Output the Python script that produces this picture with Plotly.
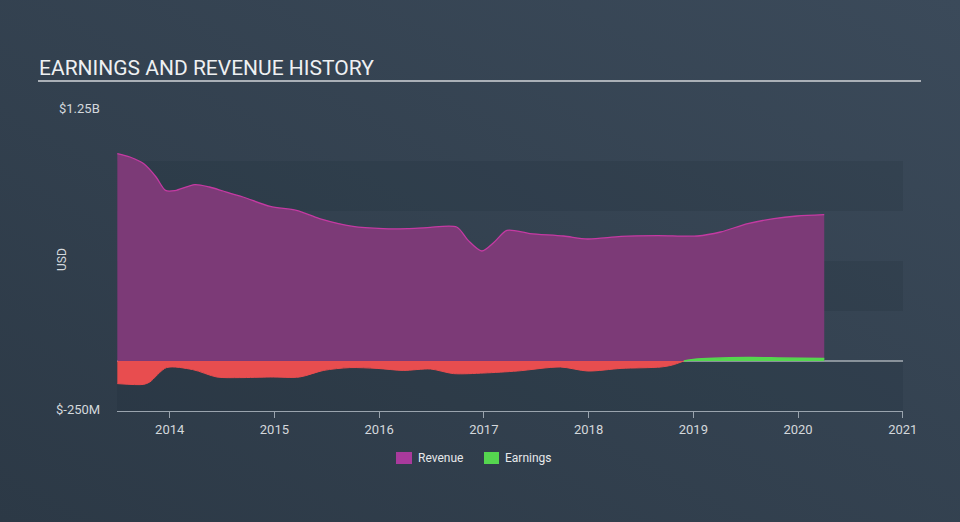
import base64
import plotly.graph_objects as go

# ---- data (values in millions USD, x in decimal years) ----
rev_t = [2013.50, 2013.62, 2013.75, 2013.87, 2013.96, 2014.05, 2014.24, 2014.38, 2014.51, 2014.70,
         2014.96, 2015.21, 2015.43, 2015.75, 2016.04, 2016.27, 2016.46, 2016.74, 2016.85, 2016.98,
         2017.10, 2017.22, 2017.44, 2017.76, 2017.99, 2018.31, 2018.66, 2019.04, 2019.26, 2019.52,
         2019.77, 2019.99, 2020.25]
revenue = [1037, 1020, 987, 920, 853, 852, 882, 870, 850, 820,
           773, 753, 712, 673, 662, 662, 667, 670, 603, 550,
           595, 653, 637, 625, 610, 623, 627, 625, 645, 687,
           712, 725, 732]

earn_t = [2013.50, 2013.75, 2013.81, 2013.97, 2014.22, 2014.45, 2014.67, 2014.96, 2015.24, 2015.47,
          2015.72, 2015.98, 2016.23, 2016.49, 2016.71, 2017.00, 2017.32, 2017.73, 2017.99, 2018.31,
          2018.69, 2018.80, 2018.91, 2019.00, 2019.52, 2019.83, 2020.25]
earnings = [-113, -117, -105, -33, -43, -80, -83, -80, -80, -47,
            -33, -37, -47, -40, -63, -60, -50, -30, -50, -37,
            -30, -20, 0, 8, 17, 15, 12]

year_ticks = [2014, 2015, 2016, 2017, 2018, 2019, 2020, 2021]
y_min, y_max = -250, 1250
band_edges = [(750, 1000), (250, 500), (-250, 0)]

# ---- geometry ----
W, H = 960, 522
L, R, T, B = 117, 57, 111, 111
PW, PH = W - L - R, H - T - B

def px(x):
    return (x - L) / PW

def py(y):
    return (H - B - y) / PH

# split earnings into negative and positive parts
neg_t = [t for t, v in zip(earn_t, earnings) if v <= 0]
neg_v = [v for v in earnings if v <= 0]
pos_t = [t for t, v in zip(earn_t, earnings) if v >= 0]
pos_v = [v for v in earnings if v >= 0]

fig = go.Figure()
fig.add_trace(go.Scatter(x=rev_t, y=revenue, mode="lines", fill="tozeroy",
                         line=dict(color="#c43aa2", width=1.3, shape="spline", smoothing=0.8),
                         fillcolor="#7c3a77", name="Revenue", showlegend=False, hoverinfo="skip"))
fig.add_trace(go.Scatter(x=neg_t, y=neg_v, mode="lines", fill="tozeroy",
                         line=dict(color="#e84d4f", width=1, shape="spline", smoothing=0.8),
                         fillcolor="#e84d4f", showlegend=False, hoverinfo="skip"))
fig.add_trace(go.Scatter(x=pos_t, y=pos_v, mode="lines", fill="tozeroy",
                         line=dict(color="#55d64f", width=1.5, shape="spline", smoothing=0.8),
                         fillcolor="#55d64f", name="Earnings", showlegend=False, hoverinfo="skip"))

# background gradient
svg = ('<svg xmlns="http://www.w3.org/2000/svg" width="960" height="522">'
       '<defs><linearGradient id="g" x1="0" y1="1" x2="1" y2="0">'
       '<stop offset="0" stop-color="#2c3946"/><stop offset="1" stop-color="#3b4a5a"/>'
       '</linearGradient></defs><rect width="960" height="522" fill="url(#g)"/></svg>')
src = "data:image/svg+xml;base64," + base64.b64encode(svg.encode()).decode()

shapes = []
for a, b in band_edges:
    shapes.append(dict(type="rect", xref="paper", yref="y", x0=0, x1=1, y0=a, y1=b,
                       fillcolor="rgba(20,30,40,0.12)", line=dict(width=0), layer="below"))
# title underline
shapes.append(dict(type="line", xref="paper", yref="paper", x0=px(38), x1=px(921),
                   y0=py(81), y1=py(81), line=dict(color="#aab0b7", width=2)))
# zero line
shapes.append(dict(type="line", xref="paper", yref="y", x0=0, x1=1, y0=0, y1=0,
                   line=dict(color="#dfe3e6", width=1), layer="below"))
# legend squares
shapes.append(dict(type="rect", xref="paper", yref="paper", x0=px(396), x1=px(412),
                   y0=py(464), y1=py(452), fillcolor="#a93a9c", line=dict(width=0)))
shapes.append(dict(type="rect", xref="paper", yref="paper", x0=px(484), x1=px(499),
                   y0=py(464), y1=py(452), fillcolor="#55d64f", line=dict(width=0)))

font = "Roboto, Arial, sans-serif"
annotations = [
    dict(text="EARNINGS AND REVENUE HISTORY", xref="paper", yref="paper", x=px(37), y=py(68),
         xanchor="left", yanchor="middle", showarrow=False,
         font=dict(family=font, size=21, color="#eef0f2")),
    dict(text="$1.25B", xref="paper", yref="paper", x=px(102), y=py(108),
         xanchor="right", yanchor="middle", showarrow=False,
         font=dict(family=font, size=13, color="#d4d8dc")),
    dict(text="$-250M", xref="paper", yref="paper", x=px(102), y=py(409),
         xanchor="right", yanchor="middle", showarrow=False,
         font=dict(family=font, size=13, color="#d4d8dc")),
    dict(text="USD", xref="paper", yref="paper", x=px(62), y=py(260), textangle=-90,
         xanchor="center", yanchor="middle", showarrow=False,
         font=dict(family=font, size=12, color="#d4d8dc")),
    dict(text="Revenue", xref="paper", yref="paper", x=px(416), y=py(458),
         xanchor="left", yanchor="middle", showarrow=False,
         font=dict(family=font, size=12, color="#e6e8ea")),
    dict(text="Earnings", xref="paper", yref="paper", x=px(503), y=py(458),
         xanchor="left", yanchor="middle", showarrow=False,
         font=dict(family=font, size=12, color="#e6e8ea")),
]

fig.update_layout(
    width=W, height=H, margin=dict(l=L, r=R, t=T, b=B),
    paper_bgcolor="#33414f", plot_bgcolor="rgba(0,0,0,0)",
    images=[dict(source=src, xref="paper", yref="paper", x=-L / PW, y=1 + T / PH,
                 sizex=W / PW, sizey=H / PH, sizing="stretch", layer="below",
                 xanchor="left", yanchor="top")],
    shapes=shapes, annotations=annotations, showlegend=False,
    font=dict(family=font),
    xaxis=dict(range=[2013.497, 2021.002], tickvals=year_ticks, ticktext=[str(y) for y in year_ticks],
               showgrid=False, zeroline=False, showline=True, linecolor="#9aa4ae", linewidth=1,
               ticks="outside", ticklen=6, tickcolor="#9aa4ae",
               tickfont=dict(family=font, size=13, color="#d4d8dc")),
    yaxis=dict(range=[y_min, y_max], showgrid=False, zeroline=False, showticklabels=False,
               showline=False, ticks=""),
)

fig.write_html("out.html")
